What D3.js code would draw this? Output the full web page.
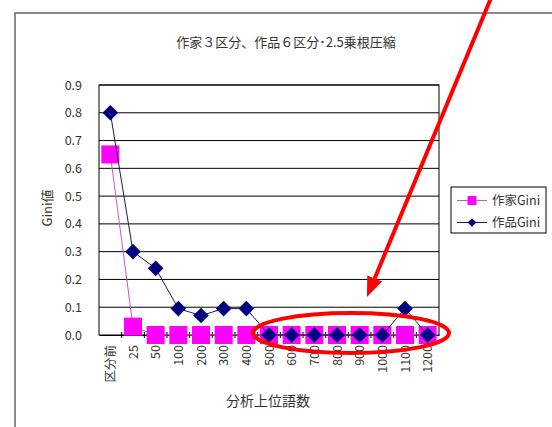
<!DOCTYPE html>
<html>
<head>
<meta charset="utf-8">
<script src="https://cdn.jsdelivr.net/npm/d3@7"></script>
<style>
  body { margin: 0; background: #fff; }
  text { font-family: "Noto Sans CJK JP", "Noto Sans", sans-serif; fill: #333; }
</style>
</head>
<body>
<div id="chart"></div>
<script>
const categories = ["区分前", "25", "50", "100", "200", "300", "400", "500", "600", "700", "800", "900", "1000", "1100", "1200"];
const authorGini = [0.65, 0.03, 0, 0, 0, 0, 0, 0, 0, 0, 0, 0, 0, 0, 0];
const workGini = [0.80, 0.30, 0.24, 0.095, 0.07, 0.095, 0.095, 0, 0, 0, 0, 0, 0, 0.095, 0];
const yTicks = [0, 0.1, 0.2, 0.3, 0.4, 0.5, 0.6, 0.7, 0.8, 0.9];

const width = 552, height = 427;
const margin = {top: 85, right: 113, bottom: 92, left: 99};

const svg = d3.select("#chart").append("svg").attr("width", width).attr("height", height);

// outer chart frame (runs past the window on the right and bottom)
svg.append("path").attr("d", `M15,${height + 5} L15,13 L${width + 5},13`)
  .attr("fill", "none").attr("stroke", "#666").attr("stroke-width", 1.5);

const x = d3.scaleBand().domain(categories).range([margin.left, width - margin.right]).padding(0);
const y = d3.scaleLinear().domain([0, 0.9]).range([height - margin.bottom, margin.top]);
const cx = d => x(d) + x.bandwidth() / 2;

// gridlines
svg.append("g").selectAll("line").data(yTicks.slice(1)).enter().append("line")
  .attr("x1", margin.left).attr("x2", width - margin.right)
  .attr("y1", d => y(d)).attr("y2", d => y(d))
  .attr("stroke", "#000").attr("stroke-width", 1);

// plot border
svg.append("rect").attr("x", margin.left).attr("y", y(0.9))
  .attr("width", width - margin.right - margin.left).attr("height", y(0) - y(0.9))
  .attr("fill", "none").attr("stroke", "#000").attr("stroke-width", 1);

// y tick labels
svg.append("g").selectAll("text").data(yTicks).enter().append("text")
  .attr("x", 82).attr("y", d => y(d) + 4.5).attr("text-anchor", "end")
  .attr("font-size", "12.5px").text(d => d.toFixed(1));

// x axis
const xAxis = svg.append("g").attr("transform", `translate(0,${y(0)})`)
  .call(d3.axisBottom(x).tickSize(0).tickFormat(""));
xAxis.select(".domain").attr("stroke", "#000");
svg.append("g").selectAll("line").data(categories.slice(1)).enter().append("line")
  .attr("x1", d => x(d)).attr("x2", d => x(d))
  .attr("y1", y(0) - 3).attr("y2", y(0) + 3)
  .attr("stroke", "#000").attr("stroke-width", 1);

svg.append("g").selectAll("text").data(categories).enter().append("text")
  .attr("transform", d => `translate(${cx(d) + 4.5},${y(0) + 10}) rotate(-90)`)
  .attr("text-anchor", "end").attr("font-size", "12.5px").text(d => d);

// axis titles and chart title
svg.append("text").attr("x", 286).attr("y", 47).attr("text-anchor", "middle")
  .attr("font-size", "13px").text("作家３区分、作品６区分･2.5乗根圧縮");
svg.append("text").attr("transform", "translate(52,208) rotate(-90)").attr("text-anchor", "middle")
  .attr("font-size", "13px").text("Gini値");
svg.append("text").attr("x", 268).attr("y", 406).attr("text-anchor", "middle")
  .attr("font-size", "14px").text("分析上位語数");

// series
const line = vals => d3.line().x((d, i) => cx(categories[i])).y(d => y(d))(vals);

svg.append("path").attr("d", line(authorGini)).attr("fill", "none")
  .attr("stroke", "#d050d0").attr("stroke-width", 1);
svg.append("g").selectAll("rect").data(authorGini).enter().append("rect")
  .attr("x", (d, i) => cx(categories[i]) - 9).attr("y", d => y(d) - 9)
  .attr("width", 18).attr("height", 18).attr("fill", "#ff00ff");

svg.append("path").attr("d", line(workGini)).attr("fill", "none")
  .attr("stroke", "#1a1a60").attr("stroke-width", 1);
const diamond = d3.symbol().type(d3.symbolSquare).size(122);
svg.append("g").selectAll("path").data(workGini).enter().append("path")
  .attr("d", diamond)
  .attr("transform", (d, i) => `translate(${cx(categories[i])},${y(d)}) rotate(45)`)
  .attr("fill", "#000080");

// legend
const legend = svg.append("g").attr("transform", "translate(451,187)");
legend.append("rect").attr("width", 95).attr("height", 46)
  .attr("fill", "#fff").attr("stroke", "#000").attr("stroke-width", 1);
legend.append("line").attr("x1", 6).attr("x2", 36).attr("y1", 13.5).attr("y2", 13.5)
  .attr("stroke", "#d050d0").attr("stroke-width", 1);
legend.append("rect").attr("x", 16.5).attr("y", 9).attr("width", 9).attr("height", 9).attr("fill", "#ff00ff");
legend.append("line").attr("x1", 6).attr("x2", 36).attr("y1", 35.5).attr("y2", 35.5)
  .attr("stroke", "#1a1a60").attr("stroke-width", 1);
legend.append("path").attr("d", d3.symbol().type(d3.symbolSquare).size(36))
  .attr("transform", "translate(21,35.5) rotate(45)").attr("fill", "#000080");
legend.append("text").attr("x", 41).attr("y", 18).attr("font-size", "12.5px").text("作家Gini");
legend.append("text").attr("x", 41).attr("y", 40).attr("font-size", "12.5px").text("作品Gini");

// red annotations
svg.append("ellipse").attr("cx", 351).attr("cy", 333).attr("rx", 98).attr("ry", 20)
  .attr("fill", "none").attr("stroke", "#ff0000").attr("stroke-width", 4);
const tip = [367, 297], tail = [491, -2];
const ang = Math.atan2(tip[1] - tail[1], tip[0] - tail[0]);
const back = 20, half = 8;
const bx = tip[0] - back * Math.cos(ang), by = tip[1] - back * Math.sin(ang);
svg.append("line").attr("x1", tail[0]).attr("y1", tail[1]).attr("x2", bx).attr("y2", by)
  .attr("stroke", "#ff0000").attr("stroke-width", 4);
svg.append("path")
  .attr("d", `M${tip[0]},${tip[1]} L${bx + half * Math.sin(ang)},${by - half * Math.cos(ang)} L${bx - half * Math.sin(ang)},${by + half * Math.cos(ang)} Z`)
  .attr("fill", "#ff0000");
</script>
</body>
</html>
